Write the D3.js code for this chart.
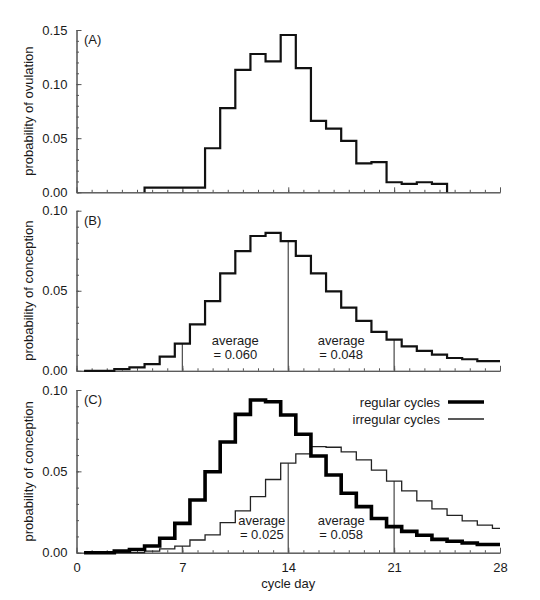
<!DOCTYPE html>
<html>
<head>
<meta charset="utf-8">
<script src="https://cdn.jsdelivr.net/npm/d3@7"></script>
<style>
  body { margin: 0; background: #fff; }
  svg text { font-family: "Liberation Sans", Arial, sans-serif; fill: #1a1a1a; }
</style>
</head>
<body>
<svg width="540" height="600"></svg>
<script>
// cycle days 1..28 (each bin is centred on its day)
const days = d3.range(1, 29);

// (A) probability of ovulation, only days 5..24 are non-zero
const ovulationDays = d3.range(5, 25);
const ovulation = [0.0043, 0.0043, 0.0043, 0.0043, 0.0407, 0.0778, 0.1132, 0.1278,
    0.121, 0.1454, 0.1148, 0.066, 0.0589, 0.0475, 0.0268, 0.0278, 0.0093, 0.0077,
    0.0093, 0.0077];

// (B) probability of conception, days 1..28
const conception = [0, 0, 0.001, 0.0021, 0.0042, 0.0088, 0.017, 0.029, 0.0435,
    0.0608, 0.0748, 0.0842, 0.0862, 0.081, 0.0718, 0.0608, 0.0496, 0.0395, 0.0312,
    0.0243, 0.0195, 0.0153, 0.0124, 0.0101, 0.008, 0.0072, 0.0061, 0.0061];
const conceptionAverages = ["0.060", "0.048"];

// (C) regular vs irregular cycles, days 1..28
const regular = [0, 0, 0.001, 0.002, 0.0041, 0.0089, 0.018, 0.0324, 0.0498, 0.068,
    0.085, 0.0939, 0.0928, 0.0846, 0.0728, 0.0594, 0.0478, 0.0365, 0.0283, 0.021,
    0.016, 0.0131, 0.0107, 0.0082, 0.007, 0.006, 0.005, 0.005];
const irregular = [0, 0, 0, 0, 0.001, 0.0023, 0.0041, 0.0078, 0.011, 0.0185, 0.0257,
    0.0345, 0.045, 0.055, 0.0607, 0.0652, 0.0648, 0.062, 0.057, 0.0508, 0.044, 0.038,
    0.0318, 0.0269, 0.023, 0.0196, 0.017, 0.015];
const cycleAverages = ["0.025", "0.058"];

const markerDays = [7, 14, 21];
const xTickLabels = [0, 7, 14, 21, 28];
const legendLabels = ["regular cycles", "irregular cycles"];
const panelLabels = ["(A)", "(B)", "(C)"];
const yTitles = ["probability of ovulation", "probability of conception", "probability of conception"];
const yMax = [0.15, 0.10, 0.10];

const svg = d3.select("svg");
const axisColor = "#555";

const x = d3.scaleLinear().domain([0, 28]).range([76.5, 500]);

// vertical extent of each panel
const panels = [
    { top: 30, bottom: 192.3 },
    { top: 210.7, bottom: 370.8 },
    { top: 390, bottom: 552.7 }
];

const ys = panels.map((p, i) =>
    d3.scaleLinear().domain([0, yMax[i]]).range([p.bottom, p.top]));

// draw axes, ticks and titles for each panel
panels.forEach((p, i) => {
    const y = ys[i];
    const g = svg.append("g");

    // y axis: minor ticks every 0.01, major every 0.05 (all pointing inward)
    g.append("g")
        .attr("transform", `translate(${x(0)},0)`)
        .call(d3.axisLeft(y)
            .tickValues(d3.range(0, yMax[i] + 1e-9, 0.01))
            .tickSizeInner(-2.5).tickSizeOuter(0)
            .tickFormat(""));
    g.append("g")
        .attr("transform", `translate(${x(0)},0)`)
        .call(d3.axisLeft(y)
            .tickValues(d3.range(0, yMax[i] + 1e-9, 0.05))
            .tickSizeInner(-5).tickSizeOuter(0)
            .tickPadding(9)
            .tickFormat(d3.format(".2f")));

    // x axis: minor tick per day, major every week
    g.append("g")
        .attr("transform", `translate(0,${p.bottom})`)
        .call(d3.axisBottom(x)
            .tickValues(d3.range(0, 29))
            .tickSizeInner(-2.5).tickSizeOuter(0)
            .tickFormat(""));
    g.append("g")
        .attr("transform", `translate(0,${p.bottom})`)
        .call(d3.axisBottom(x)
            .tickValues(xTickLabels)
            .tickSizeInner(-5).tickSizeOuter(0)
            .tickPadding(10)
            .tickFormat(i === 2 ? d3.format("d") : ""));

    g.selectAll(".domain, .tick line").attr("stroke", axisColor).attr("stroke-width", 1);
    g.selectAll(".tick text")
        .attr("font-size", 13)
        .attr("fill", "#1a1a1a")
        .attr("font-family", "Liberation Sans, Arial, sans-serif");

    // y title
    svg.append("text")
        .attr("transform", `translate(28,${(p.top + p.bottom) / 2}) rotate(-90)`)
        .attr("text-anchor", "middle")
        .attr("dy", "0.35em")
        .attr("font-size", 13)
        .text(yTitles[i]);

    // panel label
    svg.append("text")
        .attr("x", 84)
        .attr("y", p.top + 14)
        .attr("font-size", 13)
        .text(panelLabels[i]);
});

// x axis title
svg.append("text")
    .attr("x", x(14))
    .attr("y", 588)
    .attr("text-anchor", "middle")
    .attr("font-size", 13)
    .text("cycle day");

// step line helpers
const stepLine = (y) => d3.line()
    .x(d => x(d[0]))
    .y(d => y(d[1]))
    .curve(d3.curveStepAfter);

function fullSteps(values) {
    const pts = days.map((d, i) => [d - 0.5, values[i]]);
    pts.push([28, values[values.length - 1]]);
    return pts;
}

// (A) ovulation histogram, closed down to the baseline at both ends
const ovPts = [[ovulationDays[0] - 0.5, 0]]
    .concat(ovulationDays.map((d, i) => [d - 0.5, ovulation[i]]))
    .concat([[ovulationDays[ovulationDays.length - 1] + 0.5, 0]]);

svg.append("path")
    .attr("d", stepLine(ys[0])(ovPts))
    .attr("fill", "none")
    .attr("stroke", "#111")
    .attr("stroke-width", 2.2);

// marker lines at days 7, 14, 21 reaching up to a curve
function markers(y, values) {
    svg.append("g")
        .selectAll("line")
        .data(markerDays)
        .join("line")
        .attr("x1", d => x(d))
        .attr("x2", d => x(d))
        .attr("y1", y(0))
        .attr("y2", d => y(values[d - 1]))
        .attr("stroke", "#555")
        .attr("stroke-width", 1.3);
}

// "average = ..." annotations
function averageLabel(cx, baseY, value) {
    const t = svg.append("text")
        .attr("text-anchor", "middle")
        .attr("font-size", 13);
    t.append("tspan").attr("x", cx).attr("y", baseY).text("average");
    t.append("tspan").attr("x", cx).attr("y", baseY + 14).text("= " + value);
}

// (B)
markers(ys[1], conception);
svg.append("path")
    .attr("d", stepLine(ys[1])(fullSteps(conception)))
    .attr("fill", "none")
    .attr("stroke", "#111")
    .attr("stroke-width", 2.2);
averageLabel(x(10.5), 345, conceptionAverages[0]);
averageLabel(x(17.5), 345, conceptionAverages[1]);

// (C)
markers(ys[2], irregular);
svg.append("path")
    .attr("d", stepLine(ys[2])(fullSteps(irregular)))
    .attr("fill", "none")
    .attr("stroke", "#222")
    .attr("stroke-width", 1.3);
svg.append("path")
    .attr("d", stepLine(ys[2])(fullSteps(regular)))
    .attr("fill", "none")
    .attr("stroke", "#000")
    .attr("stroke-width", 3.6);
averageLabel(x(12.25), 525, cycleAverages[0]);
averageLabel(x(17.5), 525, cycleAverages[1]);

// legend
const legendWidths = [3.6, 1.3];
legendLabels.forEach((label, i) => {
    const ly = 402 + i * 17;
    svg.append("text")
        .attr("x", 440)
        .attr("y", ly)
        .attr("dy", "0.35em")
        .attr("text-anchor", "end")
        .attr("font-size", 13)
        .text(label);
    svg.append("line")
        .attr("x1", 448).attr("x2", 484)
        .attr("y1", ly).attr("y2", ly)
        .attr("stroke", i === 0 ? "#000" : "#222")
        .attr("stroke-width", legendWidths[i]);
});
</script>
</body>
</html>
